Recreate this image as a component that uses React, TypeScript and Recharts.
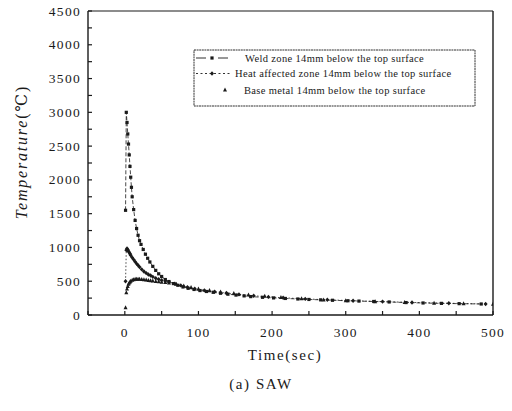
import { LineChart, Line, XAxis, YAxis } from 'recharts';

const xTicks = [-50, 0, 50, 100, 150, 200, 250, 300, 350, 400, 450, 500];
const yTicks = [0, 250, 500, 750, 1000, 1250, 1500, 1750, 2000, 2250, 2500, 2750, 3000, 3250, 3500, 3750, 4000, 4250, 4500];

const weldTime = [1, 2, 3, 4, 5, 6, 7, 8, 9, 10, 12, 14, 16, 18, 20, 22, 25, 28, 31, 34, 38, 42, 46, 50, 55, 60, 66, 72, 79, 86, 94, 102, 111, 120, 130, 140, 151, 162, 171, 187, 202, 218, 235, 250, 266, 282, 303, 318, 338, 359, 382, 405, 430, 454, 484];
const weldTemp = [1550, 3000, 2850, 2680, 2530, 2370, 2200, 2040, 1890, 1750, 1560, 1400, 1280, 1180, 1100, 1045, 970, 900, 840, 785, 720, 660, 610, 570, 525, 495, 465, 440, 415, 395, 378, 362, 348, 336, 322, 308, 295, 283, 272, 262, 253, 245, 237, 230, 224, 218, 211, 206, 200, 193, 184, 178, 172, 168, 163];

const hazTime = [1, 2, 3, 4, 5, 6, 7, 8, 10, 12, 14, 16, 18, 20, 23, 26, 29, 32, 35, 38, 42, 46, 50, 55, 60, 68, 76, 85, 95, 108, 122, 138, 155, 175, 195, 215, 245, 275, 310, 350, 390, 440, 490];
const hazTemp = [500, 960, 985, 965, 945, 925, 905, 885, 850, 820, 790, 760, 735, 710, 675, 645, 620, 600, 585, 565, 545, 530, 515, 502, 490, 462, 438, 412, 390, 365, 345, 325, 305, 285, 268, 255, 238, 225, 211, 198, 186, 174, 163];

const baseTime = [1, 2, 3, 4, 5, 6, 7, 8, 10, 12, 14, 16, 18, 20, 23, 26, 29, 32, 35, 38, 42, 46, 50, 55, 60, 70, 80, 90, 100, 115, 130, 148, 168, 190, 212, 240, 270, 300, 340, 380, 420, 460, 500];
const baseTemp = [110, 330, 385, 425, 455, 475, 490, 500, 515, 525, 530, 532, 532, 530, 527, 523, 518, 513, 508, 503, 498, 493, 488, 482, 476, 455, 430, 408, 388, 363, 342, 320, 297, 278, 260, 241, 224, 211, 197, 186, 176, 168, 160];

const weldData = weldTime.map((t, i) => ({ t, T: weldTemp[i] }));
const hazData = hazTime.map((t, i) => ({ t, T: hazTemp[i] }));
const baseData = baseTime.map((t, i) => ({ t, T: baseTemp[i] }));

const FONT = '"Liberation Serif", "DejaVu Serif", serif';
const INK = '#1a1a1a';

const square = (p: any) => (
  <rect key={p.key} x={p.cx - 1.6} y={p.cy - 1.6} width={3.2} height={3.2} fill={INK} />
);
const diamond = (p: any) => (
  <path key={p.key} d={`M${p.cx},${p.cy - 2.2}L${p.cx + 2},${p.cy}L${p.cx},${p.cy + 2.2}L${p.cx - 2},${p.cy}Z`} fill={INK} />
);
const triangle = (p: any) => (
  <path key={p.key} d={`M${p.cx},${p.cy - 2.4}L${p.cx + 2},${p.cy + 1.6}L${p.cx - 2},${p.cy + 1.6}Z`} fill={INK} />
);

// labels only on the major ticks; tick lines come from tickLine (negative size = inward)
const BottomTick = (props: any) => {
  const { x, y, payload } = props;
  const v = payload.value;
  if (v % 100 !== 0 || v < 0) return <g />;
  return (
    <text x={x} y={y + 22} textAnchor="middle" fontFamily={FONT} fontSize={13.5} letterSpacing={1.3} fill={INK}>
      {v}
    </text>
  );
};

const LeftTick = (props: any) => {
  const { x, y, payload } = props;
  const v = payload.value;
  if (v % 500 !== 0) return <g />;
  return (
    <text x={x - 7} y={y + 4.5} textAnchor="end" fontFamily={FONT} fontSize={13.5} letterSpacing={1.3} fill={INK}>
      {v}
    </text>
  );
};

const tickStroke = { stroke: INK, strokeWidth: 1.2 };

export default function App() {
  return (
    <div style={{ position: 'absolute', left: 0, top: 0, width: 512, height: 411, background: '#fff' }}>
      <LineChart width={512} height={411} data={weldData} margin={{ top: 10, right: 18, bottom: 66, left: 0 }}>
        <XAxis dataKey="t" type="number" domain={[-50, 500]} ticks={xTicks} interval={0} tickSize={-4} tickMargin={4}
          tick={<BottomTick />} tickLine={tickStroke} height={30} axisLine={{ stroke: INK, strokeWidth: 1.4 }} allowDataOverflow />
        <XAxis xAxisId="top" dataKey="t" orientation="top" type="number" domain={[-50, 500]} ticks={xTicks} interval={0} tickSize={-4} tickMargin={4}
          tick={false} tickLine={tickStroke} height={1} axisLine={{ stroke: INK, strokeWidth: 1.2 }} allowDataOverflow />
        <YAxis type="number" domain={[0, 4500]} ticks={yTicks} interval={0} tickSize={-4} tickMargin={4}
          tick={<LeftTick />} tickLine={tickStroke} width={88} axisLine={{ stroke: INK, strokeWidth: 1.4 }} allowDataOverflow />
        <YAxis yAxisId="right" orientation="right" type="number" domain={[0, 4500]} ticks={yTicks} interval={0} tickSize={-4} tickMargin={4}
          tick={false} tickLine={tickStroke} width={1} axisLine={{ stroke: INK, strokeWidth: 1.4 }} allowDataOverflow />
        <Line data={weldData} dataKey="T" type="linear" stroke={INK} strokeWidth={0.8} strokeDasharray="4 2" dot={square} isAnimationActive={false} />
        <Line data={hazData} dataKey="T" type="linear" stroke={INK} strokeWidth={0.8} strokeDasharray="1.5 2" dot={diamond} isAnimationActive={false} />
        {/* same domains as bottom/left, so attaching here keeps the frame axes alive */}
        <Line data={baseData} xAxisId="top" yAxisId="right" dataKey="T" type="linear" stroke="none" dot={triangle} isAnimationActive={false} />
      </LineChart>
      <svg width={512} height={411} style={{ position: 'absolute', left: 0, top: 0, pointerEvents: 'none' }} fontFamily={FONT} fill={INK}>
        <rect x={194} y={50} width={281} height={56} fill="#fff" stroke={INK} strokeWidth={0.9} strokeDasharray="2 0.6" />
        <line x1={196} x2={206} y1={58} y2={58} stroke={INK} strokeWidth={0.9} />
        <line x1={218} x2={228} y1={58} y2={58} stroke={INK} strokeWidth={0.9} />
        <rect x={210.4} y={56.4} width={3.2} height={3.2} fill={INK} />
        <text x={245} y={61.5} fontSize={10.5} letterSpacing={0.35}>Weld zone 14mm below the top surface</text>
        <line x1={196} x2={231} y1={73.5} y2={73.5} stroke={INK} strokeWidth={0.9} strokeDasharray="2 2.5" />
        <path d="M212,71.3L214,73.5L212,75.7L210,73.5Z" fill={INK} />
        <text x={235} y={77} fontSize={10.5} letterSpacing={0.35}>Heat affected zone 14mm below the top surface</text>
        <path d="M225,87.6L227,91.6L223,91.6Z" fill={INK} />
        <text x={244} y={93.5} fontSize={10.5} letterSpacing={0.35}>Base metal 14mm below the top surface</text>
        <text transform="translate(27,152) rotate(-90)" textAnchor="middle" fontSize={16} letterSpacing={1.8}>
          <tspan fontStyle="italic">Temperature</tspan>
          <tspan>(℃)</tspan>
        </text>
        <text x={285} y={360} textAnchor="middle" fontSize={15} letterSpacing={1.6}>Time(sec)</text>
        <text x={261} y={389} textAnchor="middle" fontSize={15} letterSpacing={1.6}>(a) SAW</text>
      </svg>
    </div>
  );
}
